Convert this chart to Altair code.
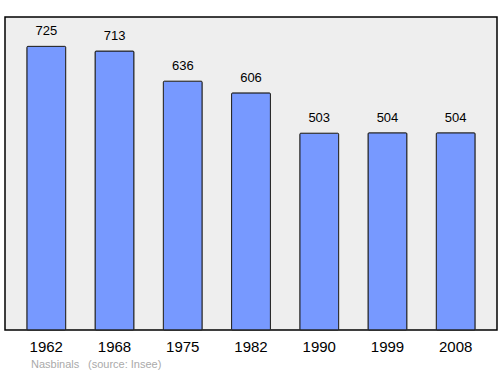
import altair as alt
import pandas as pd

years = ["1962", "1968", "1975", "1982", "1990", "1999", "2008"]
population = [725, 713, 636, 606, 503, 504, 504]
footer_texts = ["Nasbinals", "(source: Insee)"]

df = pd.DataFrame({"year": years, "pop": population})
FONT = "Liberation Sans"

x = alt.X("year:N", sort=years,
          scale=alt.Scale(paddingInner=0.43, paddingOuter=0.32),
          axis=alt.Axis(title=None, labelAngle=0, ticks=False, domain=False,
                        labelFontSize=15, labelPadding=9, labelColor="#000",
                        labelFont=FONT))
y = alt.Y("pop:Q", scale=alt.Scale(domain=[0, 800], nice=False), axis=None)

bars = alt.Chart(df).mark_bar(color="#7799ff", stroke="#222", strokeWidth=1,
                              cornerRadius=1).encode(x=x, y=y)
labels = alt.Chart(df).mark_text(dy=-15, fontSize=13, font=FONT,
                                 color="#000").encode(x=x, y=y, text="pop:Q")
foot1 = alt.Chart(pd.DataFrame({"t": [footer_texts[0]]})).mark_text(
    align="left", baseline="middle", fontSize=11, font=FONT, color="#aaaaaa"
).encode(x=alt.value(26), y=alt.value(348), text="t:N")
foot2 = alt.Chart(pd.DataFrame({"t": [footer_texts[1]]})).mark_text(
    align="left", baseline="middle", fontSize=11, font=FONT, color="#aaaaaa"
).encode(x=alt.value(83), y=alt.value(348), text="t:N")

chart = alt.layer(bars, labels, foot1, foot2).properties(
    width=492, height=313,
    padding={"left": 5, "top": 17, "right": 3, "bottom": 44},
    autosize=alt.AutoSizeParams(type="none"),
    background="white",
).configure_view(fill="#eeeeee", stroke="#000", strokeWidth=1.5)

chart.save("out.html", embed_options={"renderer": "svg", "actions": False})
